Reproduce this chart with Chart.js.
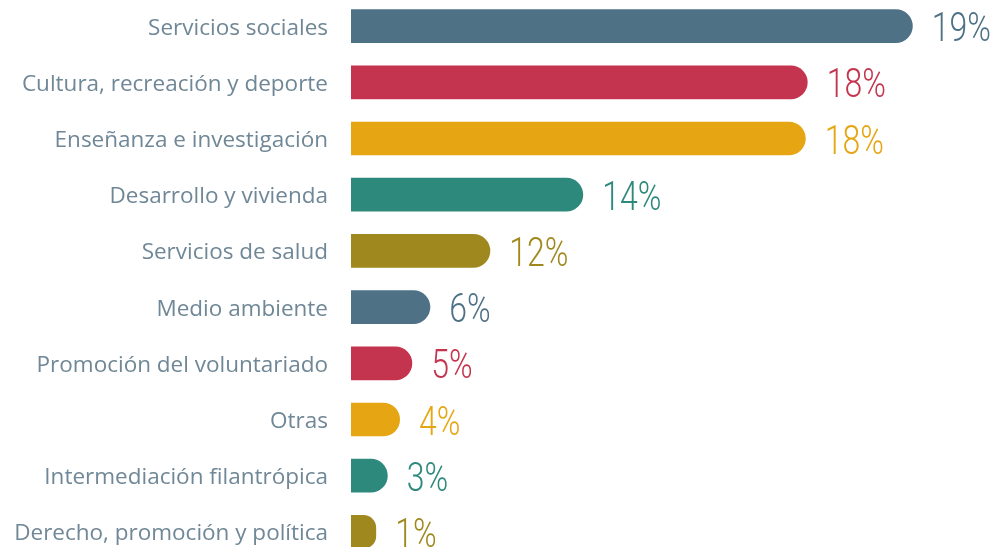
<!DOCTYPE html>
<html>
<head>
<meta charset="utf-8">
<script src="https://cdn.jsdelivr.net/npm/chart.js@4/dist/chart.umd.min.js"></script>
<style>
  html, body { margin: 0; padding: 0; background: #fff; overflow: hidden; }
  #wrap { position: absolute; left: 0; top: -2px; width: 996px; height: 562px; }
</style>
</head>
<body>
<div id="wrap"><canvas id="chart" width="996" height="562"></canvas></div>
<script>
// categories, top to bottom
const categories = [
    "Servicios sociales",
    "Cultura, recreación y deporte",
    "Enseñanza e investigación",
    "Desarrollo y vivienda",
    "Servicios de salud",
    "Medio ambiente",
    "Promoción del voluntariado",
    "Otras",
    "Intermediación filantrópica",
    "Derecho, promoción y política"
];

// bar lengths (share of the scale, 0-100)
const barValues = [87.1, 70.8, 70.5, 36.0, 21.6, 12.3, 9.5, 7.6, 5.7, 3.9];

// the printed labels next to each bar
const pctLabels = ["19%", "18%", "18%", "14%", "12%", "6%", "5%", "4%", "3%", "1%"];

const palette = ["#4e7186", "#c5344f", "#e6a613", "#2e897d", "#9f891e"];
const barColors = categories.map((c, i) => palette[i % palette.length]);

// condensed light numbers at the end of each bar
const valueLabels = {
    id: "valueLabels",
    afterDatasetsDraw(chart) {
        const ctx = chart.ctx;
        const meta = chart.getDatasetMeta(0);
        const squeeze = 0.8;
        ctx.save();
        ctx.font = "300 40px Roboto, 'Liberation Sans', sans-serif";
        ctx.textAlign = "left";
        ctx.textBaseline = "alphabetic";
        meta.data.forEach((bar, i) => {
            ctx.save();
            ctx.translate(bar.x + 19, bar.y + 15);
            ctx.scale(squeeze, 1);
            ctx.fillStyle = barColors[i];
            ctx.fillText(pctLabels[i], 0, 0);
            ctx.restore();
        });
        ctx.restore();
    }
};

new Chart(document.getElementById("chart"), {
    type: "bar",
    data: {
        labels: categories,
        datasets: [{
            data: barValues,
            backgroundColor: barColors,
            borderRadius: 17,
            borderSkipped: "start",
            barPercentage: 0.6,
            categoryPercentage: 1
        }]
    },
    options: {
        indexAxis: "y",
        responsive: false,
        animation: false,
        layout: { padding: 0 },
        plugins: {
            legend: { display: false },
            tooltip: { enabled: false }
        },
        scales: {
            x: {
                display: false,
                min: 0,
                max: 100
            },
            y: {
                afterFit(scale) {
                    scale.width = 351;
                    scale.paddingTop = 0;
                    scale.paddingBottom = 0;
                },
                grid: { display: false, drawTicks: false },
                border: { display: false },
                ticks: {
                    padding: 23,
                    labelOffset: 2,
                    color: "#6f8796",
                    font: { family: "'Open Sans', sans-serif", size: 22.5 }
                }
            }
        }
    },
    plugins: [valueLabels]
});
</script>
</body>
</html>
